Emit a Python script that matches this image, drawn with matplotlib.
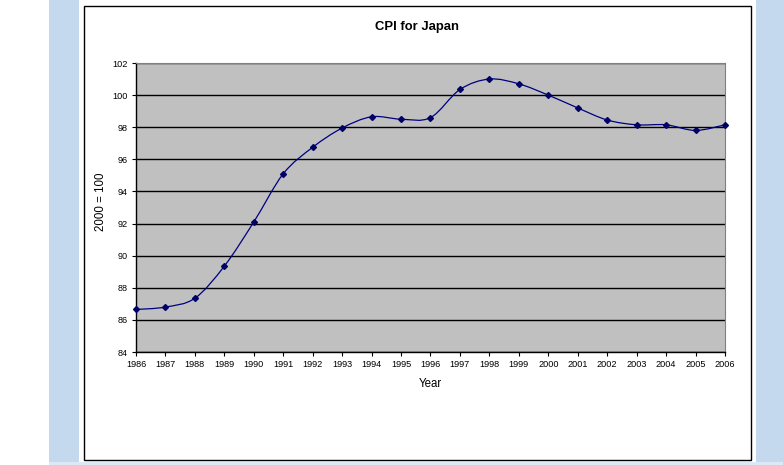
import matplotlib
matplotlib.use("Agg")
import matplotlib.pyplot as plt
from matplotlib.patches import Rectangle, PathPatch
from matplotlib.path import Path
import numpy as np

years = [1986, 1987, 1988, 1989, 1990, 1991, 1992, 1993, 1994, 1995, 1996,
         1997, 1998, 1999, 2000, 2001, 2002, 2003, 2004, 2005, 2006]
cpi = [86.65, 86.8, 87.35, 89.35, 92.1, 95.1, 96.75, 97.95, 98.65, 98.5, 98.6,
       100.35, 101.0, 100.7, 100.0, 99.2, 98.45, 98.15, 98.15, 97.8, 98.15]
y_ticks = [84, 86, 88, 90, 92, 94, 96, 98, 100, 102]
title = "CPI for Japan"
x_label = "Year"
y_label = "2000 = 100"

W, H = 783, 465
fig = plt.figure(figsize=(W / 100, H / 100), dpi=100)
plt.rcParams['font.family'] = ['Liberation Sans', 'DejaVu Sans']

def px_rect(x0, y0, x1, y1, **kw):
    r = Rectangle((x0 / W, 1 - y1 / H), (x1 - x0) / W, (y1 - y0) / H,
                  transform=fig.transFigure, zorder=-10, **kw)
    fig.add_artist(r)

blue = "#C5D9EE"
px_rect(49, 0, 79, 465, facecolor=blue, edgecolor="none")
px_rect(756, 0, 783, 465, facecolor=blue, edgecolor="none")
px_rect(49, 462, 783, 465, facecolor="#DCE8F5", edgecolor="none")
px_rect(83.5, 6, 751, 459.5, facecolor="white", edgecolor="black", linewidth=1.0)

L, T, R, B = 136, 63, 725, 352
ax = fig.add_axes([L / W, 1 - B / H, (R - L) / W, (B - T) / H])
ax.set_zorder(5)
ax.set_facecolor("#C0C0C0")
ax.set_xlim(years[0], years[-1])
ax.set_ylim(y_ticks[0], y_ticks[-1])
ax.set_yticks(y_ticks)
ax.set_xticks(years)
ax.set_xticklabels([str(y) for y in years])
ax.yaxis.grid(True, color="black", linewidth=1.0)
ax.set_axisbelow(True)
for s in ["top", "right"]:
    ax.spines[s].set_color("#808080")
    ax.spines[s].set_linewidth(0.8)
for s in ["left", "bottom"]:
    ax.spines[s].set_color("black")
    ax.spines[s].set_linewidth(1.0)
ax.tick_params(axis="both", direction="out", length=3, width=0.8, color="black",
               labelsize=6.6, pad=3)

# Smoothed line (Bezier segments through the data points, like Excel)
xs = np.array(years, dtype=float)
ys = np.array(cpi, dtype=float)
n = len(xs)
verts = [(xs[0], ys[0])]
codes = [Path.MOVETO]
for i in range(n - 1):
    p0 = np.array([xs[max(i - 1, 0)], ys[max(i - 1, 0)]])
    p1 = np.array([xs[i], ys[i]])
    p2 = np.array([xs[i + 1], ys[i + 1]])
    p3 = np.array([xs[min(i + 2, n - 1)], ys[min(i + 2, n - 1)]])
    c1 = p1 + (p2 - p0) / 6.0
    c2 = p2 - (p3 - p1) / 6.0
    verts += [tuple(c1), tuple(c2), tuple(p2)]
    codes += [Path.CURVE4, Path.CURVE4, Path.CURVE4]
ax.add_patch(PathPatch(Path(verts, codes), fill=False, edgecolor="#000080",
                       linewidth=0.9, zorder=3))
ax.plot(years, cpi, linestyle="none", marker="D", markersize=3.0,
        color="#000066", zorder=4, clip_on=False)

fig.text((83.5 + 751) / 2 / W, 1 - 27 / H, title, ha="center", va="center",
         fontsize=9.4, fontweight="bold")
fig.text((L + R) / 2 / W, 1 - 384 / H, x_label, ha="center", va="center",
         fontsize=8.3)
fig.text(101 / W, 1 - 202 / H, y_label, ha="center", va="center",
         fontsize=8.3, rotation=90)

fig.savefig("out.png", dpi=100)
